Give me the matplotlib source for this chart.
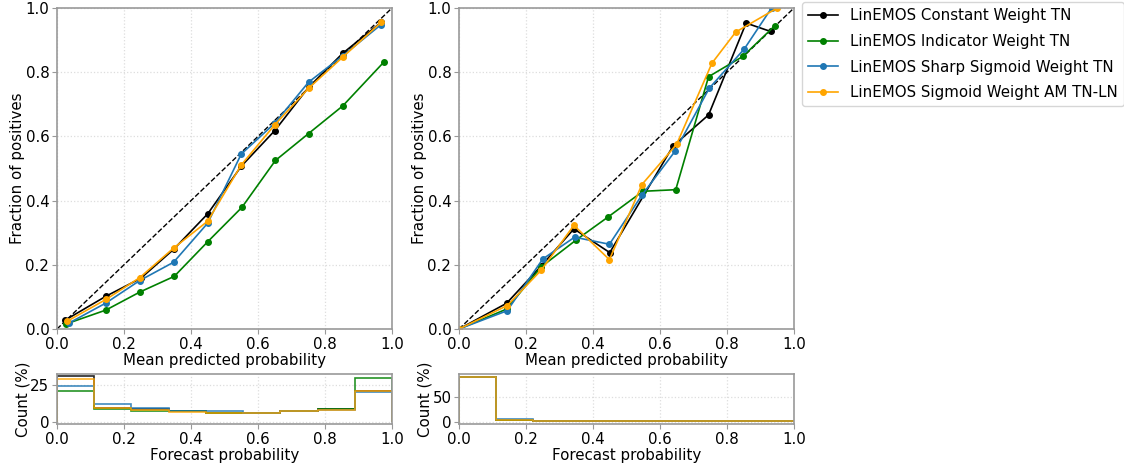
import numpy as np
import matplotlib
matplotlib.use("Agg")
import matplotlib.pyplot as plt

labels = ["LinEMOS Constant Weight TN", "LinEMOS Indicator Weight TN",
          "LinEMOS Sharp Sigmoid Weight TN", "LinEMOS Sigmoid Weight AM TN-LN"]
colors = ["black", "green", "#1f77b4", "orange"]

# Left panel: reliability curves
left_x = [
    [0.025, 0.146, 0.250, 0.348, 0.450, 0.550, 0.650, 0.751, 0.853, 0.967],
    [0.028, 0.146, 0.247, 0.350, 0.450, 0.552, 0.652, 0.751, 0.853, 0.977],
    [0.035, 0.146, 0.247, 0.348, 0.450, 0.550, 0.650, 0.751, 0.853, 0.967],
    [0.030, 0.146, 0.247, 0.348, 0.450, 0.550, 0.650, 0.751, 0.853, 0.967],
]
left_y = [
    [0.028, 0.102, 0.158, 0.248, 0.359, 0.507, 0.618, 0.753, 0.859, 0.955],
    [0.016, 0.059, 0.115, 0.164, 0.272, 0.379, 0.525, 0.609, 0.695, 0.833],
    [0.018, 0.081, 0.151, 0.208, 0.330, 0.545, 0.641, 0.769, 0.851, 0.948],
    [0.024, 0.092, 0.160, 0.252, 0.336, 0.511, 0.636, 0.750, 0.847, 0.955],
]

# Right panel: reliability curves
right_x = [
    [0.0, 0.142, 0.245, 0.343, 0.450, 0.639, 0.745, 0.857, 0.930],
    [0.0, 0.142, 0.245, 0.348, 0.445, 0.549, 0.647, 0.745, 0.847, 0.943],
    [0.0, 0.144, 0.250, 0.345, 0.449, 0.546, 0.645, 0.747, 0.852, 0.933],
    [0.0, 0.144, 0.246, 0.343, 0.449, 0.546, 0.650, 0.755, 0.826, 0.950],
]
right_y = [
    [0.0, 0.080, 0.196, 0.312, 0.238, 0.570, 0.667, 0.953, 0.927],
    [0.0, 0.062, 0.193, 0.276, 0.349, 0.429, 0.434, 0.786, 0.849, 0.945],
    [0.0, 0.057, 0.218, 0.286, 0.264, 0.417, 0.554, 0.750, 0.873, 1.0],
    [0.0, 0.073, 0.184, 0.323, 0.216, 0.450, 0.576, 0.828, 0.925, 1.0],
]

# Histograms (% of forecasts per bin), 9 bins on [0, 1]
bin_edges = np.linspace(0, 1, 10)
left_hist = [
    [30.7, 9.6, 8.6, 7.2, 6.2, 6.2, 7.4, 8.6, 20.8],
    [20.7, 8.9, 7.1, 7.1, 6.0, 6.1, 7.4, 8.8, 29.6],
    [24.0, 12.2, 9.0, 7.5, 7.0, 6.2, 7.4, 8.1, 20.2],
    [29.1, 9.6, 8.0, 6.5, 5.8, 6.1, 7.2, 8.0, 21.0],
]
right_hist = [
    [91.0, 4.2, 1.5, 1.3, 0.5, 0.5, 0.5, 0.5, 0.5],
    [91.0, 4.0, 1.5, 1.5, 0.5, 0.5, 0.5, 0.5, 0.5],
    [90.6, 4.6, 1.6, 1.3, 0.5, 0.5, 0.5, 0.5, 0.5],
    [90.6, 4.0, 1.5, 1.5, 0.6, 0.6, 0.6, 0.6, 0.6],
]

FS = 10.8
plt.rcParams["font.size"] = FS
fig = plt.figure(figsize=(11.24, 4.68), dpi=100)
W, H = 1124, 468

def ax_at(x0, y0, x1, y1):
    return fig.add_axes([x0 / W, 1 - y1 / H, (x1 - x0) / W, (y1 - y0) / H])

ax1 = ax_at(57, 8, 392, 329)
ax2 = ax_at(459, 8, 794, 329)
h1 = ax_at(57, 374, 392, 424)
h2 = ax_at(459, 374, 794, 424)

spine_col = "#999999"

def style(ax):
    for s in ax.spines.values():
        s.set_color(spine_col)
        s.set_linewidth(1.2)
    ax.tick_params(color=spine_col, labelsize=FS, pad=2)
    ax.grid(True, color="#dddddd", linestyle=":", linewidth=0.9)
    ax.set_axisbelow(True)

for ax, xs, ys in [(ax1, left_x, left_y), (ax2, right_x, right_y)]:
    ax.plot([0, 1], [0, 1], "k--", lw=1)
    for x, y, c, lab in zip(xs, ys, colors, labels):
        ax.plot(x, y, marker="o", ms=4, lw=1.2, color=c, label=lab)
    ax.set_xlim(0, 1)
    ax.set_ylim(0, 1)
    ax.set_xticks(np.arange(0, 1.01, 0.2))
    ax.set_yticks(np.arange(0, 1.01, 0.2))
    ax.set_xlabel("Mean predicted probability", labelpad=1)
    ax.set_ylabel("Fraction of positives", labelpad=0)
    style(ax)

centers = (bin_edges[:-1] + bin_edges[1:]) / 2
for hax, vals, ylim, yt in [(h1, left_hist, (-1.5, 32.2), [0, 25]),
                            (h2, right_hist, (-4.6, 96.6), [0, 50])]:
    for v, c in zip(vals, colors):
        hax.hist(centers, bins=bin_edges, weights=v, histtype="step",
                 color=c, lw=1.2, alpha=0.85)
    hax.set_xlim(0, 1)
    hax.set_ylim(*ylim)
    hax.set_yticks(yt)
    hax.set_xticks(np.arange(0, 1.01, 0.2))
    hax.set_xlabel("Forecast probability", labelpad=1)
    hax.set_ylabel("Count (%)", labelpad=0)
    style(hax)

ax2.legend(loc="upper left", bbox_to_anchor=(802 / W, 1 - 2 / H),
           bbox_transform=fig.transFigure, fontsize=FS, frameon=True,
           borderaxespad=0, handlelength=2, labelspacing=0.72, borderpad=0.4)

fig.savefig("out.png", dpi=100)
